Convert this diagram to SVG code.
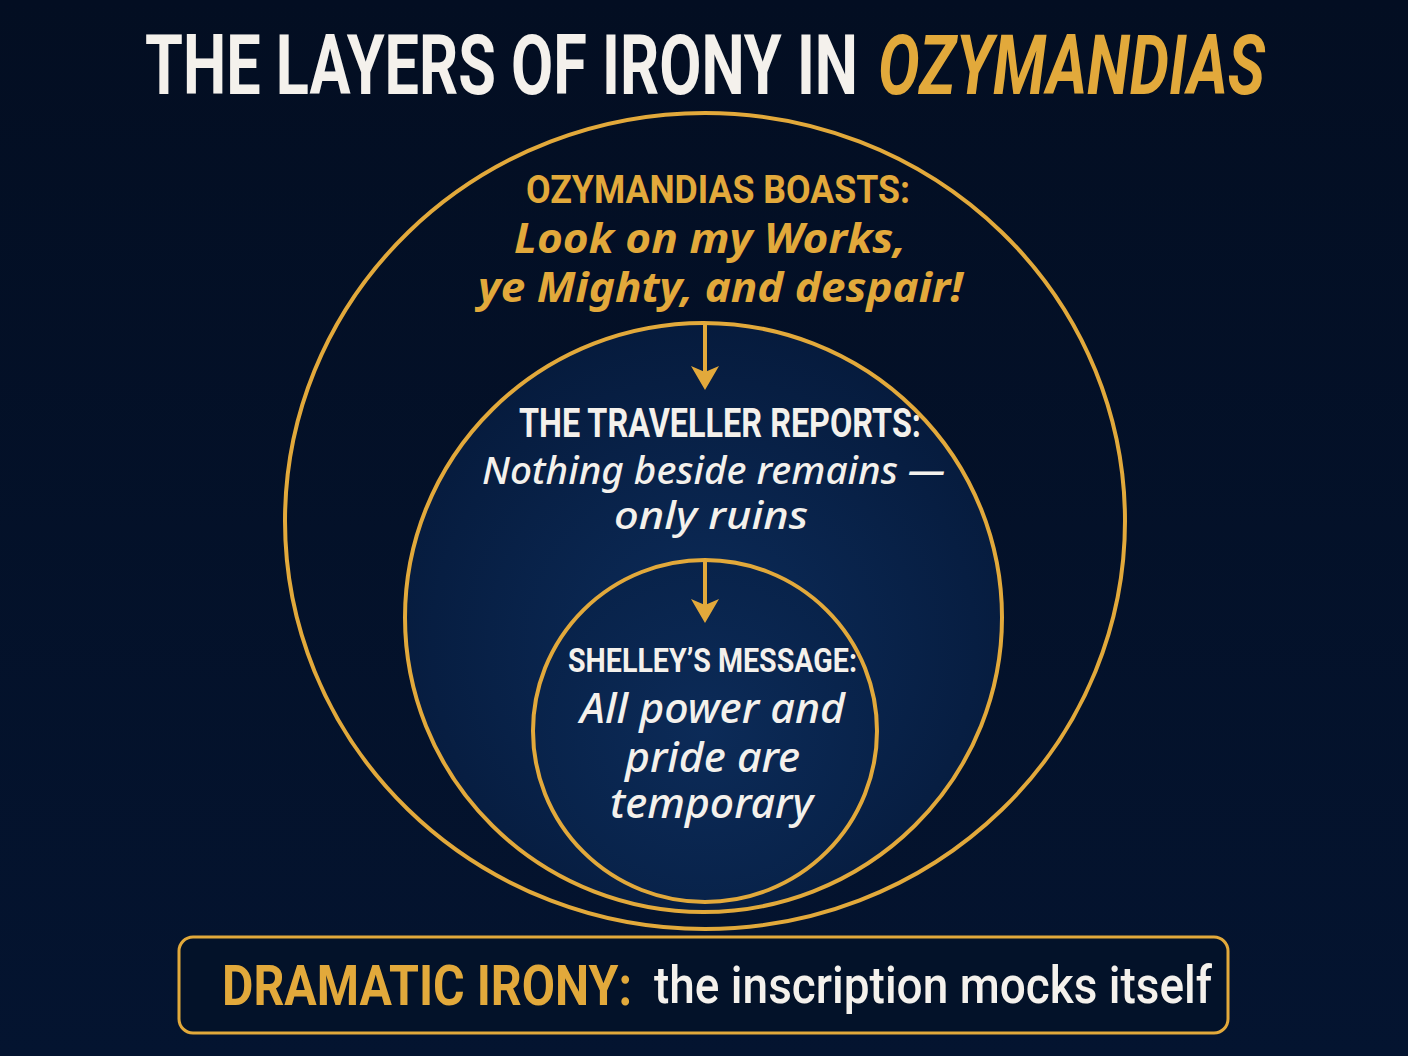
<svg xmlns="http://www.w3.org/2000/svg" width="1408" height="1056" viewBox="0 0 1408 1056">
<defs>
<linearGradient id="bg" x1="0" y1="0" x2="0" y2="1">
<stop offset="0" stop-color="#030e22"/>
<stop offset="1" stop-color="#041430"/>
</linearGradient>
<radialGradient id="mid" cx="0.5" cy="0.55" r="0.55">
<stop offset="0" stop-color="#0c2c5a"/>
<stop offset="1" stop-color="#061b3d"/>
</radialGradient>
<radialGradient id="inn" cx="0.5" cy="0.5" r="0.55">
<stop offset="0" stop-color="#0c2b58"/>
<stop offset="1" stop-color="#082249"/>
</radialGradient>
<marker id="ah" viewBox="0 0 10 10" refX="9" refY="5" markerWidth="7" markerHeight="7" markerUnits="userSpaceOnUse" orient="auto">
<path d="M0,0 L10,5 L0,10 z" fill="#e2a93b"/>
</marker>
<style>
.ring{fill:none;stroke:#e2a93b;stroke-width:4}
.cond{font-family:"Roboto","Liberation Sans",sans-serif;font-weight:700;}
.ital{font-family:"Noto Sans","Open Sans",sans-serif;font-style:italic;}
.gold{fill:#e2a93b}
.white{fill:#f4f1ec}
.arrow{stroke:#e2a93b;stroke-width:4;fill:none}
</style>
</defs>
<rect width="1408" height="1056" fill="url(#bg)"/>
<g id="title">
<text class="cond white" x="145" y="94" font-size="84" textLength="713" lengthAdjust="spacingAndGlyphs">THE LAYERS OF IRONY IN</text>
<text class="cond gold" x="878" y="94" font-size="84" font-style="italic" textLength="387" lengthAdjust="spacingAndGlyphs">OZYMANDIAS</text>
</g>
<g id="outer-ring">
<ellipse class="ring" cx="705" cy="521" rx="420" ry="408"/>
<text class="cond gold" x="526" y="203" font-size="38" textLength="384" lengthAdjust="spacingAndGlyphs">OZYMANDIAS BOASTS:</text>
<text class="ital gold" x="514" y="253" font-size="42" font-weight="700" textLength="392" lengthAdjust="spacingAndGlyphs">Look on my Works,</text>
<text class="ital gold" x="478" y="302" font-size="42" font-weight="700" textLength="485" lengthAdjust="spacingAndGlyphs">ye Mighty, and despair!</text>
</g>
<g id="middle-ring">
<ellipse class="ring" cx="703.5" cy="617.5" rx="298.5" ry="294.5" fill="url(#mid)" style="fill:url(#mid)"/>
<text class="cond white" x="519" y="437" font-size="40" textLength="402" lengthAdjust="spacingAndGlyphs">THE TRAVELLER REPORTS:</text>
<text class="ital white" x="482" y="484" font-size="38" font-weight="500" textLength="463" lengthAdjust="spacingAndGlyphs">Nothing beside remains —</text>
<text class="ital white" x="614" y="529" font-size="38" font-weight="500" textLength="194" lengthAdjust="spacingAndGlyphs">only ruins</text>
</g>
<g id="inner-ring">
<ellipse class="ring" cx="705" cy="731" rx="172" ry="171" style="fill:url(#inn)"/>
<text class="cond white" x="568" y="672" font-size="33" textLength="289" lengthAdjust="spacingAndGlyphs">SHELLEY’S MESSAGE:</text>
<text class="ital white" x="580" y="723" font-size="41" font-weight="500" textLength="265" lengthAdjust="spacingAndGlyphs">All power and</text>
<text class="ital white" x="625" y="772" font-size="41" font-weight="500" textLength="175" lengthAdjust="spacingAndGlyphs">pride are</text>
<text class="ital white" x="610" y="818" font-size="41" font-weight="500" textLength="203" lengthAdjust="spacingAndGlyphs">temporary</text>
</g>
<g id="connectors">
<line class="arrow" x1="705" y1="325" x2="705" y2="372"/>
<path d="M691,366 L705,390 L719,366 L705,372 z" fill="#e2a93b"/>
<line class="arrow" x1="705" y1="561" x2="705" y2="605"/>
<path d="M691,599 L705,623 L719,599 L705,605 z" fill="#e2a93b"/>
</g>
<g id="summary-box">
<rect x="179" y="937" width="1049" height="96" rx="14" fill="#031229" stroke="#e2a93b" stroke-width="3"/>
<text class="cond gold" x="222" y="1005" font-size="56" textLength="410" lengthAdjust="spacingAndGlyphs">DRAMATIC IRONY:</text>
<text x="654" y="1003" font-size="52" font-family="Roboto, 'Liberation Sans', sans-serif" font-weight="500" class="white" textLength="558" lengthAdjust="spacingAndGlyphs">the inscription mocks itself</text>
</g>
</svg>
